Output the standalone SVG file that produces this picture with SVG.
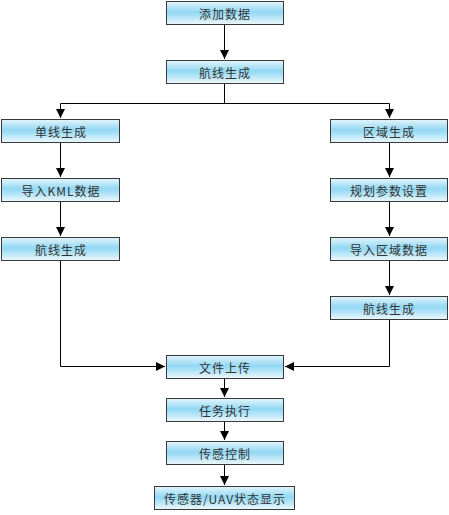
<svg xmlns="http://www.w3.org/2000/svg" width="449" height="515" viewBox="0 0 449 515">
<defs>
<linearGradient id="g" x1="0" y1="0" x2="0" y2="1">
<stop offset="0" stop-color="#e4f5fc"/>
<stop offset="0.45" stop-color="#92d8f4"/>
<stop offset="0.6" stop-color="#a6e0f6"/>
<stop offset="1" stop-color="#eef8fc"/>
</linearGradient>
<marker id="arr" markerWidth="10" markerHeight="10" refX="9" refY="5" orient="auto" markerUnits="userSpaceOnUse">
<path d="M0,0.5 L9,5 L0,9.5 Z" fill="#000"/>
</marker>
</defs>
<style>
.box{fill:url(#g);stroke:#3a3a3a;stroke-width:1}
.t{font-family:"Noto Sans CJK SC","Liberation Sans",sans-serif;font-size:12px;fill:#333;text-anchor:middle;dominant-baseline:central;letter-spacing:1px}
.c{fill:none;stroke:#000;stroke-width:1}
</style>
<rect width="449" height="515" fill="#fff"/>
<g id="connectors">
<path class="c" d="M224.5,24.5 V59" marker-end="url(#arr)"/>
<path class="c" d="M224.5,83.5 V103.5"/>
<path class="c" d="M60.5,103.5 H389.5"/>
<path class="c" d="M60.5,103.5 V118" marker-end="url(#arr)"/>
<path class="c" d="M389.5,103.5 V118" marker-end="url(#arr)"/>
<path class="c" d="M60.5,142.5 V177" marker-end="url(#arr)"/>
<path class="c" d="M60.5,201.5 V236" marker-end="url(#arr)"/>
<path class="c" d="M389.5,142.5 V177" marker-end="url(#arr)"/>
<path class="c" d="M389.5,201.5 V236" marker-end="url(#arr)"/>
<path class="c" d="M389.5,260.5 V295" marker-end="url(#arr)"/>
<path class="c" d="M60.5,260.5 V366.5 H165" marker-end="url(#arr)"/>
<path class="c" d="M389.5,319.5 V366.5 H285" marker-end="url(#arr)"/>
<path class="c" d="M224.5,378.5 V397" marker-end="url(#arr)"/>
<path class="c" d="M224.5,421.5 V440" marker-end="url(#arr)"/>
<path class="c" d="M224.5,464.5 V485" marker-end="url(#arr)"/>
</g>
<g id="n1"><rect class="box" x="166.5" y="1.5" width="117" height="23"/><text class="t" x="225" y="13">添加数据</text></g>
<g id="n2"><rect class="box" x="166.5" y="60.5" width="117" height="23"/><text class="t" x="225" y="72">航线生成</text></g>
<g id="n3"><rect class="box" x="1.5" y="119.5" width="118" height="23"/><text class="t" x="61" y="131">单线生成</text></g>
<g id="n4"><rect class="box" x="330.5" y="119.5" width="117" height="23"/><text class="t" x="389" y="131">区域生成</text></g>
<g id="n5"><rect class="box" x="1.5" y="178.5" width="118" height="23"/><text class="t" x="61" y="190">导入KML数据</text></g>
<g id="n6"><rect class="box" x="330.5" y="178.5" width="117" height="23"/><text class="t" x="389" y="190">规划参数设置</text></g>
<g id="n7"><rect class="box" x="1.5" y="237.5" width="118" height="23"/><text class="t" x="61" y="249">航线生成</text></g>
<g id="n8"><rect class="box" x="330.5" y="237.5" width="117" height="23"/><text class="t" x="389" y="249">导入区域数据</text></g>
<g id="n9"><rect class="box" x="330.5" y="296.5" width="117" height="23"/><text class="t" x="389" y="308">航线生成</text></g>
<g id="n10"><rect class="box" x="166.5" y="355.5" width="117" height="23"/><text class="t" x="225" y="367">文件上传</text></g>
<g id="n11"><rect class="box" x="166.5" y="398.5" width="117" height="23"/><text class="t" x="225" y="410">任务执行</text></g>
<g id="n12"><rect class="box" x="166.5" y="441.5" width="117" height="23"/><text class="t" x="225" y="453">传感控制</text></g>
<g id="n13"><rect class="box" x="154.5" y="486.5" width="140" height="23"/><text class="t" x="225" y="498">传感器/UAV状态显示</text></g>
</svg>
